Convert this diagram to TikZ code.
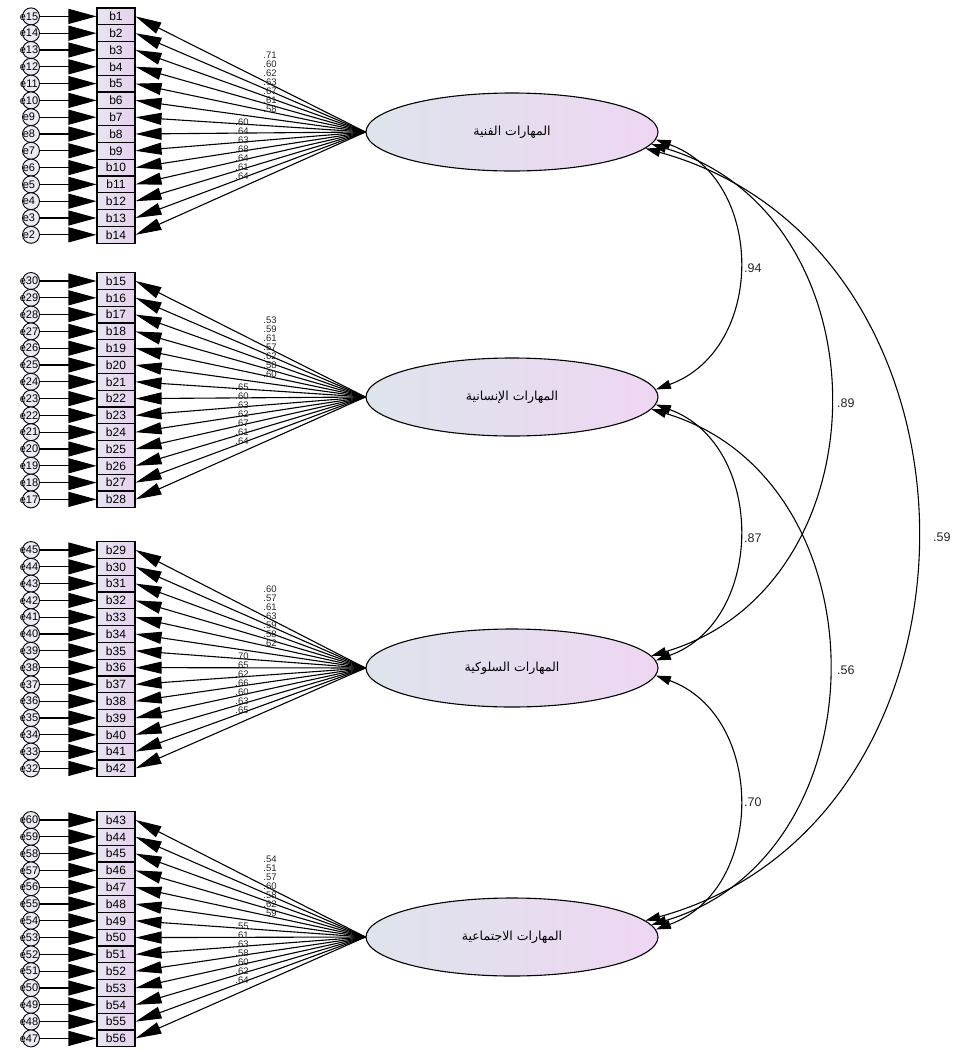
\documentclass[tikz,border=0pt]{standalone}
\usepackage{fontspec}
\setmainfont{Liberation Sans}
\newfontfamily\arabicfont[Script=Arabic]{DejaVu Sans}
\TeXXeTstate=1
\usetikzlibrary{arrows.meta,shapes.geometric}
\definecolor{boxl}{RGB}{232,228,240}
\definecolor{boxr}{RGB}{228,210,238}
\definecolor{errfill}{RGB}{236,234,244}
\definecolor{elleft}{RGB}{222,228,236}
\definecolor{elright}{RGB}{238,214,242}
\tikzset{
  obsbox/.style={draw, line width=1.1pt, minimum width=38pt, minimum height=16.8pt,
    inner sep=0pt, left color=boxl, right color=boxr, font=\fontsize{12}{12}\selectfont},
  errc/.style={circle, draw, line width=0.9pt, minimum size=17pt, inner sep=0pt, fill=errfill},
  errlab/.style={font=\fontsize{11}{11}\selectfont, inner sep=0pt},
  latent/.style={ellipse, draw, line width=1.1pt, minimum width=292pt, minimum height=78pt,
    inner sep=0pt, left color=elleft, right color=elright,
    font=\arabicfont\fontsize{12.5}{12.5}\selectfont},
  errarrow/.style={line width=1.1pt, -{Triangle[length=28pt,width=15pt]}},
  loadarrow/.style={line width=1.1pt, -{Triangle[length=26pt,width=12pt]}},
  corr/.style={line width=1.1pt, {Triangle[length=15pt,width=9pt]}-{Triangle[length=15pt,width=9pt]}},
  loadlab/.style={font=\fontsize{9.5}{9.5}\selectfont, inner sep=0pt, text=black!85},
  corrlab/.style={font=\fontsize{12.5}{12.5}\selectfont, inner sep=0pt, anchor=west, text=black!85}
}
\begin{document}
\begin{tikzpicture}[x=1pt, y=-1pt]
\useasboundingbox (0,0) rectangle (962,1050);
\fill[white] (0,0) rectangle (962,1050);

% latent factors
\node[latent] (f1) at (512,132) {\beginR المهارات الفنية\endR};
\node[latent] (f2) at (512,397) {\beginR المهارات الإنسانية\endR};
\node[latent] (f3) at (512,668) {\beginR المهارات السلوكية\endR};
\node[latent] (f4) at (512,937) {\beginR المهارات الاجتماعية\endR};

% indicators, errors
\foreach \k/\by in {1/16.4, 2/281, 3/550, 4/820} {
  \foreach \j in {0,...,13} {
    \pgfmathtruncatemacro{\n}{(\k-1)*14+\j+1}
    \pgfmathtruncatemacro{\en}{15*\k-\j}
    \pgfmathsetmacro{\yy}{\by+16.8*\j}
    \node[obsbox] (b\n) at (116,\yy) {b\n};
    \node[errc] (e\n) at (31,\yy) {};
    \node[errlab] (t\n) at (29,\yy) {e\en};
    \draw[errarrow] (e\n) -- (b\n);
    \draw[loadarrow] (f\k.west) -- (b\n.east);
  }
}

% loading labels
\foreach \k/\by/\vals in {
  1/16.4/{.71,.60,.62,.63,.67,.61,.58,.60,.64,.63,.68,.64,.61,.64},
  2/281/{.53,.59,.61,.57,.62,.58,.60,.65,.60,.63,.62,.67,.61,.64},
  3/550/{.60,.57,.61,.63,.59,.58,.62,.70,.65,.62,.66,.60,.63,.65},
  4/820/{.54,.51,.57,.60,.58,.62,.59,.55,.61,.63,.58,.60,.62,.64}} {
  \foreach \v [count=\c from 0] in \vals {
    \pgfmathtruncatemacro{\n}{(\k-1)*14+\c+1}
    \ifnum\c<7
      \pgfmathsetmacro{\ly}{\by+39+9*\c}
      \node[loadlab] (l\n) at (270,\ly) {\v};
    \else
      \pgfmathsetmacro{\ly}{\by+106+9*(\c-7)}
      \node[loadlab] (l\n) at (242,\ly) {\v};
    \fi
  }
}

% correlations
\draw[corr] (f1.-3) .. controls +(110,40) and +(110,-40) .. (f2.3);
\draw[corr] (f2.-3) .. controls +(110,40) and +(110,-40) .. (f3.3);
\draw[corr] (f3.-3) .. controls +(110,40) and +(110,-40) .. (f4.3);
\draw[corr] (f1.-5) .. controls +(237,70) and +(237,-70) .. (f3.5);
\draw[corr] (f2.-5) .. controls +(235,70) and +(235,-70) .. (f4.5);
\draw[corr] (f1.-7) .. controls +(361,100) and +(361,-100) .. (f4.7);

\node[corrlab] (c12) at (744,268) {.94};
\node[corrlab] (c13) at (837,403) {.89};
\node[corrlab] (c23) at (744,538) {.87};
\node[corrlab] (c14) at (933,537) {.59};
\node[corrlab] (c24) at (837,670) {.56};
\node[corrlab] (c34) at (744,802) {.70};
\end{tikzpicture}
\end{document}
